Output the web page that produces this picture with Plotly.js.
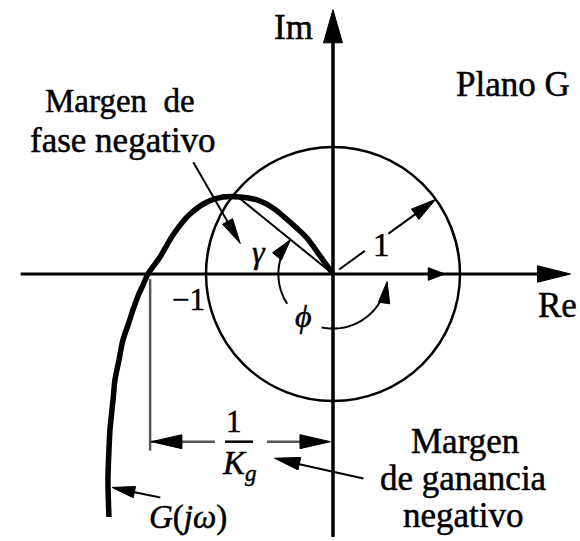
<!DOCTYPE html>
<html>
<head>
<meta charset="utf-8">
<script src="https://cdn.plot.ly/plotly-3.0.1.min.js"></script>
<style>
  html, body { margin: 0; padding: 0; background: #fff; }
  #plot { width: 580px; height: 541px; }
  /* printed-figure look: slightly heavier lettering */
  #plot .annotation-text { stroke: #000; stroke-width: 0.5px; }
</style>
</head>
<body>
<div id="plot"></div>
<script>
// Nyquist locus G(jω) in the G plane (real and imaginary parts)
const gRe = [-1.764, -1.772, -1.764, -1.756, -1.732, -1.717, -1.685, -1.654, -1.614, -1.575,
             -1.535, -1.496, -1.457, -1.362, -1.260, -1.126, -0.992, -0.866, -0.732, -0.598,
             -0.472, -0.339, -0.205, -0.102, 0.000];
const gIm = [-1.913, -1.622, -1.386, -1.228, -0.992, -0.835, -0.677, -0.520, -0.402, -0.283,
             -0.173, -0.087, 0.000, 0.134, 0.307, 0.472, 0.567, 0.606, 0.606, 0.583,
             0.520, 0.409, 0.283, 0.142, 0.000];

// Unit circle radius, real-axis crossing (-1/Kg) and phase of G at |G| = 1
const unitRadius = 1;
const gainCross = -1.44;
const phaseCrossDeg = 141;

const FONT = 'Liberation Serif';
const INK = '#000';
const GREY = '#555';

const shapes = [];
const annotations = [];

function line(x0, y0, x1, y1, w, color) {
  shapes.push({type: 'line', xref: 'x', yref: 'y', x0, y0, x1, y1,
               line: {color: color || INK, width: w || 2}});
}
// Filled arrowhead: tip position, pointing direction, length and half-width
function head(tx, ty, dx, dy, len, hw, color) {
  const n = Math.hypot(dx, dy); dx /= n; dy /= n;
  const bx = tx - dx * len, by = ty - dy * len;
  const px = -dy * hw, py = dx * hw;
  shapes.push({type: 'path', xref: 'x', yref: 'y',
    path: `M${tx},${ty} L${bx + px},${by + py} L${bx - px},${by - py} Z`,
    fillcolor: color || INK, line: {color: color || INK, width: 1}});
}
// Circular arc about the origin, angles in degrees
function arc(r, a0, a1, w) {
  const steps = 40;
  let d = '';
  for (let i = 0; i <= steps; i++) {
    const a = (a0 + (a1 - a0) * i / steps) * Math.PI / 180;
    d += (i ? ' L' : 'M') + (r * Math.cos(a)).toFixed(4) + ',' + (r * Math.sin(a)).toFixed(4);
  }
  shapes.push({type: 'path', xref: 'x', yref: 'y', path: d, line: {color: INK, width: w || 2}});
}
function label(x, y, text, size) {
  annotations.push({x, y, xref: 'x', yref: 'y', text, showarrow: false,
    xanchor: 'center', yanchor: 'middle', font: {family: FONT, size: size || 35, color: INK}});
}

// Axes with arrowheads
line(-2.46, 0, 1.70, 0, 3);
head(1.87, 0, 1, 0, 0.26, 0.065);
line(0, -2.07, 0, 1.85, 3.5);
head(0, 2.08, 0, 1, 0.26, 0.075);
head(0.88, 0, 1, 0, 0.13, 0.05);

// Unit circle
shapes.push({type: 'circle', xref: 'x', yref: 'y',
  x0: -unitRadius, y0: -unitRadius, x1: unitRadius, y1: unitRadius,
  line: {color: INK, width: 2.5}});

// Radius "1"
const rA = 36 * Math.PI / 180;
line(0.06 * Math.cos(rA), 0.06 * Math.sin(rA), 0.31 * Math.cos(rA), 0.31 * Math.sin(rA), 2);
line(0.54 * Math.cos(rA), 0.54 * Math.sin(rA), 0.97 * Math.cos(rA), 0.97 * Math.sin(rA), 2);
head(unitRadius * Math.cos(rA), unitRadius * Math.sin(rA), Math.cos(rA), Math.sin(rA), 0.2, 0.05);

// Vector to the unit-magnitude point of G(jω)
const pA = phaseCrossDeg * Math.PI / 180;
line(0, 0, unitRadius * Math.cos(pA), unitRadius * Math.sin(pA), 2);

// Phase margin γ and phase angle ϕ
const rArc = 0.43;
arc(rArc, 180, phaseCrossDeg + 3, 2);
head(rArc * Math.cos(pA), rArc * Math.sin(pA), Math.sin(pA), -Math.cos(pA), 0.17, 0.045);
arc(rArc, 180, 213, 2);
arc(rArc, 258, 345, 2);
const fA = 352 * Math.PI / 180;
head(rArc * Math.cos(fA), rArc * Math.sin(fA), -Math.sin(fA), Math.cos(fA), 0.17, 0.045);

// Leader from the phase-margin caption
line(-1.10, 0.88, -0.80, 0.36, 2);
head(-0.73, 0.24, 0.37, -0.64, 0.2, 0.045);

// Gain margin dimension 1/Kg
line(gainCross, -0.04, gainCross, -1.39, 2.5, GREY);
line(gainCross, -1.32, -0.93, -1.32, 2.5, GREY);
head(gainCross + 0.01, -1.32, -1, 0, 0.24, 0.055);
line(-0.52, -1.32, -0.15, -1.32, 2.5, GREY);
head(-0.02, -1.32, 1, 0, 0.24, 0.055);
line(-0.85, -1.32, -0.63, -1.32, 2.5, INK);

// Leader from the gain-margin caption
line(0.24, -1.61, -0.30, -1.49, 2);
head(-0.46, -1.45, -0.54, 0.12, 0.2, 0.05);

// Leader to the locus
line(-1.36, -1.76, -1.60, -1.71, 2);
head(-1.74, -1.68, -0.38, 0.08, 0.18, 0.045);

// Text
label(-0.31, 1.94, 'Im');
label(1.42, 1.49, 'Plano G');
label(1.77, -0.25, 'Re');
label(-1.68, 1.36, 'Margen\u00a0\u00a0de', 33);
label(-1.65, 1.05, 'fase negativo');
label(-1.14, -0.20, '\u22121', 31);
label(-0.58, 0.17, '<i>γ</i>', 32);
label(-0.23, -0.33, '<i>ϕ</i>', 32);
label(0.38, 0.23, '1', 33);
label(-0.78, -1.16, '1', 31);
label(-0.74, -1.51, '<i>K</i><sub><i>g</i></sub>', 33);
label(-1.14, -1.92, '<i>G</i>(<i>jω</i>)', 33);
label(1.04, -1.32, 'Margen');
label(1.03, -1.61, 'de ganancia');
label(1.03, -1.90, 'negativo');

const traces = [{
  x: gRe, y: gIm, type: 'scatter', mode: 'lines',
  line: {color: INK, width: 5.5, shape: 'spline', smoothing: 0.8},
  hoverinfo: 'skip'
}];

const axisBase = {visible: false, showgrid: false, zeroline: false, fixedrange: true};
const layout = {
  width: 580, height: 541,
  margin: {l: 0, r: 0, t: 0, b: 0},
  paper_bgcolor: '#fff', plot_bgcolor: '#fff',
  showlegend: false,
  xaxis: Object.assign({range: [-2.622, 1.945]}, axisBase),
  yaxis: Object.assign({range: [-2.102, 2.157]}, axisBase),
  shapes, annotations
};

Plotly.newPlot('plot', traces, layout, {displayModeBar: false, staticPlot: true});
</script>
</body>
</html>
